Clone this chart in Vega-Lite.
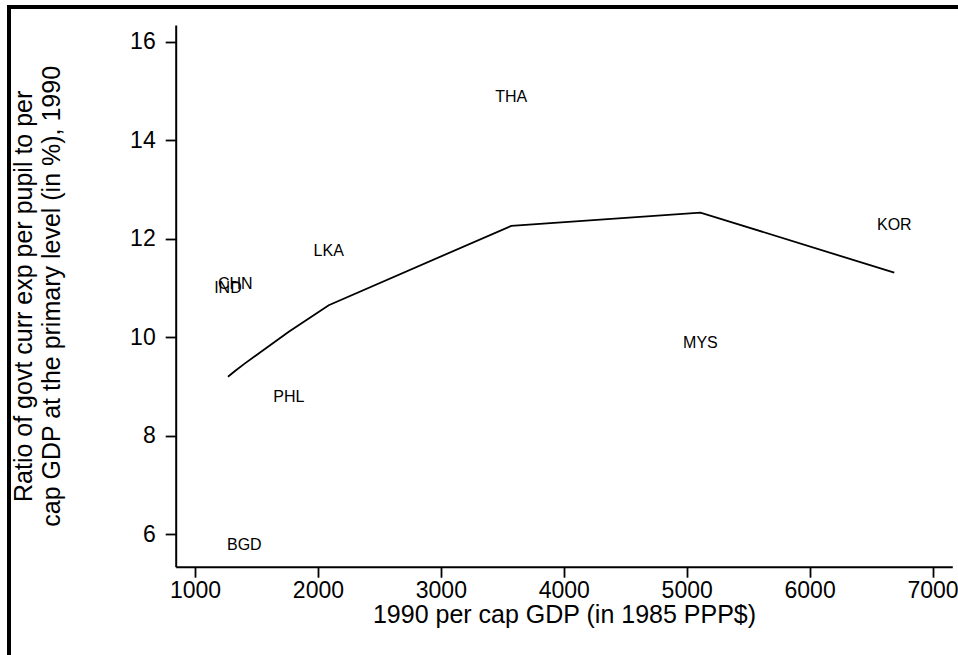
{
  "$schema": "https://vega.github.io/schema/vega-lite/v6.json",
  "width": 956,
  "height": 656,
  "autosize": {"type": "none"},
  "padding": {"left": 9, "top": 7, "right": 0, "bottom": 0},
  "background": "white",
  "config": {
    "view": {"stroke": "black", "strokeWidth": 4},
    "font": "Liberation Sans"
  },
  "datasets": {
    "countries": [
      {"code": "THA", "gdp": 3573, "ratio": 14.88},
      {"code": "KOR", "gdp": 6689, "ratio": 12.28},
      {"code": "MYS", "gdp": 5112, "ratio": 9.88},
      {"code": "LKA", "gdp": 2088, "ratio": 11.76},
      {"code": "CHN", "gdp": 1328, "ratio": 11.09},
      {"code": "IND", "gdp": 1268, "ratio": 10.99},
      {"code": "PHL", "gdp": 1763, "ratio": 8.79},
      {"code": "BGD", "gdp": 1401, "ratio": 5.79}
    ],
    "fit": [
      {"gdp": 1268, "ratio": 9.20},
      {"gdp": 1328, "ratio": 9.32},
      {"gdp": 1401, "ratio": 9.46},
      {"gdp": 1763, "ratio": 10.11},
      {"gdp": 2088, "ratio": 10.65},
      {"gdp": 3573, "ratio": 12.26},
      {"gdp": 5112, "ratio": 12.53},
      {"gdp": 6689, "ratio": 11.31}
    ]
  },
  "encoding": {
    "x": {
      "field": "gdp",
      "type": "quantitative",
      "title": "1990 per cap GDP (in 1985 PPP$)",
      "scale": {"domain": [843, 7161], "nice": false, "zero": false, "rangeMin": 166.7, "rangeMax": 943.3},
      "axis": {
        "values": [1000, 2000, 3000, 4000, 5000, 6000, 7000],
        "format": "d",
        "offset": -96.3,
        "grid": false,
        "domainColor": "black",
        "domainWidth": 2,
        "tickColor": "black",
        "tickWidth": 1.8,
        "tickSize": 10.5,
        "labelFontSize": 23,
        "labelColor": "black",
        "labelPadding": 2,
        "labelFlush": false,
        "labelOverlap": false,
        "titleFontSize": 25,
        "titleFontWeight": "normal",
        "titleColor": "black",
        "titleBaseline": "top",
        "titleY": 36
      }
    },
    "y": {
      "field": "ratio",
      "type": "quantitative",
      "title": ["Ratio of govt curr exp per pupil to per", "cap GDP at the primary level (in %), 1990"],
      "scale": {"domain": [5.345, 16.335], "nice": false, "zero": false, "rangeMin": 559.7, "rangeMax": 18},
      "axis": {
        "values": [6, 8, 10, 12, 14, 16],
        "offset": -166.7,
        "grid": false,
        "domainColor": "black",
        "domainWidth": 2,
        "tickColor": "black",
        "tickWidth": 1.8,
        "tickSize": 10.5,
        "labelFontSize": 23,
        "labelColor": "black",
        "labelPadding": 10,
        "labelFlush": false,
        "labelOverlap": false,
        "titleFontSize": 25,
        "titleFontWeight": "normal",
        "titleColor": "black",
        "titleAngle": -90,
        "titleAlign": "center",
        "titleBaseline": "top",
        "titleLineHeight": 28,
        "titleX": -164,
        "titleY": 288.85
      }
    }
  },
  "layer": [
    {
      "data": {"name": "fit"},
      "mark": {"type": "line", "color": "black", "strokeWidth": 1.8}
    },
    {
      "data": {"name": "countries"},
      "mark": {"type": "text", "fontSize": 16, "color": "black", "align": "center", "baseline": "middle"},
      "encoding": {"text": {"field": "code", "type": "nominal"}}
    }
  ]
}
